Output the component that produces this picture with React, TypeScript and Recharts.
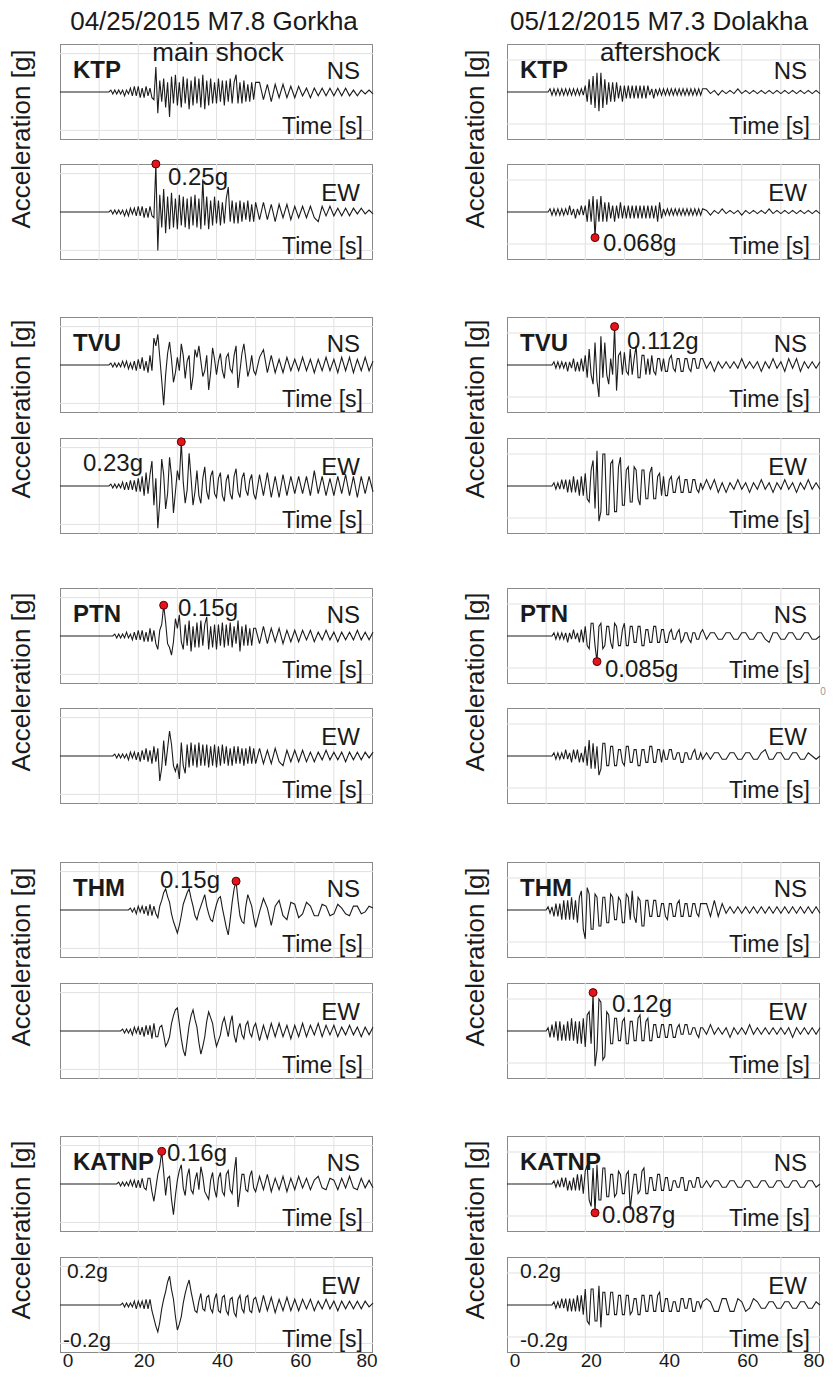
import { LineChart, Line, XAxis, YAxis, ReferenceLine, ReferenceDot } from 'recharts';

// records: 10 s to 50 s read every 0.5 s, then 51 s to 80 s every 1 s; values in hundredths of g
const traceStart = 10;
const denseStep = 0.5;
const denseSamples = 81;
const codaStep = 1;
const valueUnit = 0.01;

const timeTicks = [0, 20, 40, 60, 80];
const gridTimes = [10, 20, 30, 40, 50, 60, 70];
const stations = ['KTP', 'TVU', 'PTN', 'THM', 'KATNP'];

// 04/25/2015 M7.8 Gorkha main shock
const gorkhaKtpNs = [
  0, 0, 0, 0, 0, 0, 1, -1, 1, -1,
  1, -1, 1, -2, 1, -1, 2, -2, 3, -2,
  3, -3, 2, -3, 3, -2, 2, -3, -4, 13,
  -11, 6, -5, 7, -8, 5, -13, 8, -6, 9,
  -7, 5, -8, 8, -6, 7, -9, 6, -7, 8,
  -6, 7, -8, 9, -9, 6, -7, 7, -6, 5,
  -6, 7, -5, 6, -7, 6, -5, 7, -6, 5,
  9, -6, 5, -6, 6, -5, 4, -5, 5, -4,
  5,
  5, -4, 4, -5, 4, -3, 4, -3, 3, -3,
  3, -2, 2, -3, 2, -2, 2, -2, 2, -2, 2, -2, 2, -2, 1, -2, 1, -1, 1, -1,
];
const gorkhaKtpEw = [
  0, 0, 0, 0, 0, 0, 1, -1, 1, -1,
  1, -1, 1, -2, 1, -2, 2, -1, 2, -2,
  3, -2, 3, -3, 2, -3, 3, -2, -3, 25,
  -20, 9, -8, 12, -11, 8, -9, 10, -8, 7,
  -9, 9, -7, 8, -8, 7, -9, 8, -7, 9,
  -8, 7, -9, 17, -7, 8, -9, 6, -7, 8,
  -6, 6, -7, 5, -6, 7, 13, -5, 6, -6,
  5, -6, 6, -5, 5, -4, 6, -5, 4, -5,
  5,
  -4, 5, -4, 4, -5, 4, -3, 4, -4, 3,
  -3, 3, -3, 3, -3, -5, 3, -2, 3, -2, 2, -2, 2, -2, 2, -1, 2, -1, 1, -1,
];
const gorkhaTvuNs = [
  0, 0, 0, 0, 0, 0, 1, -1, 1, -1,
  1, -1, 2, -1, 2, -2, 1, -2, 2, -3,
  3, -2, 4, -3, 2, -4, 5, -3, 14, 10,
  16, 4, -8, -21, -5, 6, 12, 3, -9, -4,
  4, -3, 11, 5, -7, 2, 5, -13, -6, 8,
  4, 10, 2, -6, -3, 5, -13, -4, 9, 3,
  -5, 2, 6, -3, -7, 4, 6, -2, -4, 5,
  10, -12, -3, 6, 11, 3, -6, -2, 5, -3,
  -5,
  4, 8, -4, 5, -4, 3, -4, 4, -3, 3,
  -3, 4, -3, 3, -4, 3, -3, 4, -3, 3, -4, 4, -3, 4, -4, 3, -3, 4, -3, 2,
];
const gorkhaTvuEw = [
  0, 0, 0, 0, 0, 0, 1, -1, 1, -1,
  1, -1, 2, -2, 2, -2, 3, -2, 3, -3,
  4, -3, 5, -5, 7, -4, 6, 13, -10, 4,
  -22, -8, 14, 6, -12, -4, 15, 5, -14, -3,
  8, 3, 23, 2, -9, -2, 17, 4, -10, -3,
  8, -5, -9, 4, 10, -3, -7, 5, 8, -4,
  -6, 4, 7, -5, -8, 3, 6, -4, -7, 5,
  9, -3, -6, 4, 7, -2, -5, 3, 6, -4,
  -7,
  6, -5, 7, -6, 5, -6, 6, -5, 5, -4,
  5, -4, 5, -5, 8, -4, 5, -5, 4, -5, 5, -4, 6, -5, 5, -6, 5, -4, 5, -3,
];
const gorkhaPtnNs = [
  0, 0, 0, 0, 0, 0, 0, 0, 1, -1,
  1, -1, 1, -1, 2, -1, 1, -2, 2, -2,
  3, -2, 3, -3, 2, -3, 4, -3, 3, -4,
  -7, 3, 6, 16, 7, -4, -6, -10, -3, 9,
  4, 11, -3, -7, 6, -5, 8, -8, 5, -6,
  7, -6, 8, -5, 6, 10, -7, 5, -6, 6,
  -7, 6, -5, 7, -6, 6, -5, 7, -6, 5,
  -4, 8, -8, 5, -5, 6, -5, 4, -5, 4,
  4,
  -4, 5, -4, 4, -3, 4, -4, 3, -3, 3,
  -3, 3, -2, 3, -3, 2, -2, 3, -2, 2, -3, 2, -2, 2, -2, 3, -2, 2, -2, 2,
];
const gorkhaPtnEw = [
  0, 0, 0, 0, 0, 0, 0, 0, 1, -1,
  1, -1, 1, -1, 1, -2, 2, -1, 2, -2,
  2, -3, 3, -2, 4, -3, 3, -4, 5, -3,
  4, -13, -6, 8, -5, 4, 13, 6, -5, -8,
  -4, -12, 7, -5, -9, 6, -6, 7, -5, 6,
  -6, 7, -5, 6, -5, 6, -6, 5, -5, 6,
  -6, 5, -5, 6, -4, 5, -5, 4, -5, 5,
  -4, 5, -4, 4, -5, 4, -4, 5, -4, 4,
  -4,
  4, -4, 3, -4, 4, -3, -5, 3, -3, 3,
  -3, 3, -3, 2, -3, 2, -2, 3, -2, 2, -2, 2, -3, 2, -2, 2, -2, 2, -1, 2,
];
const gorkhaThmNs = [
  0, 0, 0, 0, 0, 0, 0, 0, 0, 0,
  0, 0, 0, 0, 0, 0, 1, -1, 1, -2,
  2, -1, 2, -2, 2, -3, 3, -3, 2, -2,
  -4, 2, 5, 9, 11, 7, 4, -2, -6, -9,
  -12, -8, -3, 3, 6, 9, 11, 6, 2, -3,
  -5, -1, 2, 5, 8, 2, -2, -5, -6, -1,
  3, 6, 7, 1, -4, -9, -13, -5, 4, 11,
  15, 5, -3, -6, -7, 2, 8, 5, 2, -4,
  -9,
  -1, 6, 1, -8, 2, 5, -3, -5, 4, 3,
  -4, -2, 4, 2, -3, -3, 3, 2, -3, -2, 3, 1, -2, -3, 2, 2, -2, -1, 2, 1,
];
const gorkhaThmEw = [
  0, 0, 0, 0, 0, 0, 0, 0, 0, 0,
  0, 0, 1, -1, 1, -1, 1, -2, 2, -1,
  2, -2, 2, -3, 3, -2, 3, -4, 4, -3,
  -3, 2, 3, -2, -8, -6, -3, 4, 8, 11,
  12, 4, -4, -10, -13, -5, 3, 8, 11, 6,
  2, -6, -12, -8, -3, 5, 10, 7, 4, -3,
  -8, -5, -2, 4, 7, 2, -3, 4, 8, -2,
  -6, 1, 4, -2, -4, 3, 5, -1, -3, 2,
  4,
  -5, 3, -4, 4, -3, 4, -3, 3, -4, 3,
  -3, 4, -3, 3, -2, 4, -3, 3, -2, 3, -3, 2, -2, 3, -2, 2, -3, 2, -2, 2,
];
const gorkhaKatnpNs = [
  0, 0, 0, 0, 0, 0, 0, 0, 0, 0,
  1, -1, 1, -1, 1, -1, 2, -1, 2, -2,
  2, -2, 3, -2, -3, 3, 3, -4, -9, -2,
  5, 9, 17, 6, -6, 3, 4, -8, -16, -6,
  2, 7, 10, -2, -6, 4, 8, -3, -5, 2,
  6, -3, 9, 4, -4, -6, -8, 2, 6, -3,
  -7, 3, 6, -4, -6, 5, 7, -3, -5, 6,
  14, -12, -4, 5, 5, -3, -4, 4, 7, -2,
  -4,
  4, -3, 5, -4, 3, -3, 4, -4, 3, -3,
  4, -2, 3, -3, 2, 4, -2, -3, 3, 2, -3, 3, -2, 4, -2, -3, 3, -2, 2, -2,
];
const gorkhaKatnpEw = [
  0, 0, 0, 0, 0, 0, 0, 0, 0, 0,
  0, 0, 1, -1, 1, -1, 1, -1, 2, -2,
  2, -1, 2, -2, 3, -2, 3, -3, -7, -11,
  -14, -9, -2, 3, 7, 12, 15, 8, 3, -6,
  -13, -10, -6, 1, 6, 10, 13, 7, 2, -3,
  -4, 2, 6, -2, -3, 4, 5, -2, -4, 3,
  6, -3, -4, 4, 5, -3, -5, 3, 4, -4,
  -6, 3, 5, -2, -4, 4, 5, -3, -4, 3,
  4,
  -4, 5, -3, 4, -4, 3, -3, 4, -3, 3,
  -3, 3, -2, 3, -3, 2, -2, 3, -2, 2, -3, 2, -2, 2, -2, 2, -2, 2, -1, 1,
];

// 05/12/2015 M7.3 Dolakha aftershock
const dolakhaKtpNs = [
  0, 0, 1, -1, 1, -1, 1, -1, 1, -1,
  1, -1, 1, -1, 1, -1, 1, -1, 1, -1,
  2, -3, 4, -4, 5, -5, 6, -6, 6, -5,
  4, -4, 3, -3, 3, -3, 3, -2, 2, -3,
  2, -2, 2, -2, 2, -2, 2, -2, 2, -2,
  2, -2, 2, -1, 1, -2, 1, -1, 1, -1,
  1, -1, 1, -1, 1, -1, 1, -1, 1, -1,
  1, -1, 1, -1, 1, -1, 1, -1, 1, -1,
  1,
  1, -0.5, 0.5, -1, 0.5, -0.5, 0.5, -0.5, 1, -0.5, 0.5, -0.5, 0.5, -0.5, 0.5,
  -0.5, 0.5, -0.5, 0.5, -0.5, 0.5, -0.5, 0.5, -0.5, 0.5, -0.5, 0.5, -0.5, 0.5, -0.5,
];
const dolakhaKtpEw = [
  0, 0, 1, -1, 1, -1, 1, -1, 1, -1,
  1, -1, 2, -1, 1, -2, 1, -1, 2, -1,
  2, -3, 4, -3, 5, -8, 4, -3, 5, -3,
  3, -3, 3, -2, 2, -3, 2, -2, 3, -2,
  2, -2, 2, -2, 2, -2, 2, -2, 2, -2,
  2, -2, 2, -2, 2, -2, 2, -3, 3, -2,
  1, -1, 1, -1, 1, -1, 1, -1, 1, -1,
  1, -1, 1, -1, 1, -1, 1, -1, 1, -1,
  1,
  0.5, -1, 0.5, -0.5, 1, -0.5, 0.5, -0.5, 0.5, -1, 0.5, -0.5, 0.5, -0.5, 0.5,
  -0.5, 1, -0.5, 0.5, -0.5, 0.5, -0.5, 0.5, -0.5, 0.5, -0.5, 0.5, -0.5, 0.5, -0.5,
];
const dolakhaTvuNs = [
  0, 0, 0, 0, 1, -1, 1, -1, 1, -1,
  1, -2, 1, -1, 2, -2, 1, -2, 2, -2,
  3, -4, 5, -3, -6, 7, -5, -10, 9, -4,
  7, -3, -6, 2, -3, 12, -8, 3, 4, -3,
  4, -2, -3, 5, -3, 2, 6, -4, -4, 3,
  3, -3, 2, -3, 3, -2, -3, 2, 2, -2,
  2, -2, -2, 2, 3, -1, -2, 2, 2, -2,
  -2, 2, 2, -1, -2, 2, 2, -1, -1, 2,
  2,
  -1, 1, -2, 1, -1, 1, -1, 1, -1, 2,
  -1, 1, -1, 1, -2, 1, -1, 2, -1, 1, -2, 2, -1, 2, -2, 1, -1, 1, -1, 1,
];
const dolakhaTvuEw = [
  0, 0, 0, 0, 1, -1, 1, -1, 2, -1,
  2, -2, 2, -2, 3, -2, 2, -3, 3, -3,
  4, -4, -5, 5, 8, -7, 11, -11, -8, 10,
  10, -9, -9, 7, 8, -8, -8, 6, 9, -6,
  -6, 5, 6, -5, -5, 6, 5, -4, -6, 5,
  5, -4, -4, 4, 6, -4, -4, 3, 4, -3,
  3, -3, -3, 2, 3, -2, -2, 2, 3, -2,
  -2, 2, 2, -2, -2, 2, 2, -1, -2, 1,
  -1,
  2, -1, 2, -2, 1, -2, 1, -1, 2, -1,
  1, -2, 1, -1, 2, -1, 1, -2, 1, -1, 2, -1, 1, -2, 1, -1, 2, -1, 1, -1,
];
const dolakhaPtnNs = [
  0, 0, 0, 0, 1, -1, 1, -1, 1, -1,
  1, -2, 1, -1, 2, -1, 1, -2, 2, -2,
  3, -3, -4, 4, 4, -3, -8, 3, 4, -4,
  -3, 3, 3, -2, -4, 4, 3, -3, -3, 2,
  4, -3, -3, 3, 3, -2, -2, 3, 3, -3,
  -3, 2, 2, -2, -2, 3, 3, -2, -2, 2,
  2, -2, -2, 1, 2, -1, -1, 1, 2, -2,
  -1, 1, 1, -1, -2, 1, 1, -1, -1, 1,
  2,
  -1, 1, 1, -1, -1, 1, 1, -1, -1, 1,
  1, -1, -1, 1, 1, -1, -2, 1, 1, -1, -1, 1, 1, -1, -1, 1, 1, -1, -1, 0,
];
const dolakhaPtnEw = [
  0, 0, 0, 0, 1, -1, 1, -1, 1, -1,
  2, -1, 1, -2, 2, -1, 2, -2, 1, -2,
  3, -3, 5, -4, 4, -4, 3, -6, -4, 4,
  4, -3, -3, 3, 3, -3, -3, 2, 2, -2,
  -3, 3, 3, -2, -2, 2, 2, -3, -3, 2,
  2, -2, -2, 3, 3, -2, -2, 2, 2, -2,
  2, -1, -1, 2, 2, -1, -1, 1, 1, -2,
  -2, 1, 1, -1, -1, 1, 2, -1, -1, 1,
  -1,
  1, -1, 1, 1, -1, -1, 1, 1, -1, -1,
  1, 1, -1, -1, 1, 2, -1, -1, 1, 1, -1, -1, 1, 1, -1, -1, 1, 0, -1, 0,
];
const dolakhaThmNs = [
  0, 1, -1, 1, -2, 2, -2, 2, -3, 3,
  -3, 3, -3, 4, -3, 3, -4, 4, 6, -6,
  -9, 7, 5, -6, -6, 5, 4, -5, -5, 4,
  4, -4, -4, 5, 4, -3, -3, 4, 3, -4,
  -4, 5, 4, -3, 6, -2, -4, 4, 3, -5,
  -5, 3, 3, -2, -2, 3, 3, -2, -2, 2,
  2, -2, -3, 2, 2, -2, -2, 2, 3, -2,
  -2, 2, 2, -2, -2, 2, 2, -1, -2, 2,
  2,
  2, -2, 3, -2, 2, -1, 1, -1, 1, -1,
  1, -1, 1, -1, 1, -1, 1, -1, 1, -1, 1, -1, 1, -1, 1, -1, 1, -1, 1, -1,
];
const dolakhaThmEw = [
  0, 1, -2, 2, -2, 3, -3, 3, -3, 2,
  -3, 3, -3, 4, -3, 3, -4, 3, -4, 4,
  -5, 5, 6, -4, 12, -11, -6, 10, 9, -9,
  -8, 6, 5, -4, -4, 4, 4, -3, -3, 3,
  4, -4, -4, 3, 3, -3, -3, 4, 5, -3,
  -3, 3, 4, -3, -3, 2, 2, -2, -2, 2,
  2, -2, -2, 2, 2, -2, -2, 1, 2, -1,
  -1, 2, 2, -1, -1, 1, 1, -1, -2, 1,
  1,
  -1, 2, -1, 1, -1, 1, -2, 1, -1, 1, -1, 2, -1, 1, -1,
  1, -1, 1, -1, 1, -1, 1, -2, 1, -1, 1, -1, 1, -1, 1,
];
const dolakhaKatnpNs = [
  0, 0, 0, 0, 1, -1, 1, -1, 2, -1,
  2, -2, 1, -2, 2, -2, 3, -2, 3, -3,
  4, 6, -5, -7, 5, -9, 6, -5, -5, 5,
  5, -4, -4, 3, 3, -4, -3, 4, 3, -3,
  -3, 3, 4, -8, -2, 3, 3, -3, -2, 4,
  5, -3, -3, 2, 2, -2, -2, 3, 3, -2,
  -2, 2, 2, -2, -2, 1, 1, -1, -1, 2,
  2, -2, -2, 1, 1, -1, -1, 2, 2, -1,
  -1,
  1, -1, 1, 1, -1, -1, 1, 1, -1, -1, 1, 1, -1, -1, 1,
  1, -1, -1, 1, 1, -1, -1, 1, 1, -1, -1, 1, 1, -1, 0,
];
const dolakhaKatnpEw = [
  0, 0, 0, 0, 1, -1, 1, -1, 2, -1,
  2, -2, 2, -2, 2, -2, 3, -2, 3, -3,
  5, -5, -6, 5, 5, -5, -5, 6, -7, 4,
  4, -3, -3, 4, 4, -3, -3, 3, 3, -3,
  -3, 3, 3, -3, -2, 2, 2, -3, -3, 3,
  3, -2, -2, 3, 3, -2, -2, 3, 4, -2,
  -2, 2, 2, -2, -2, 1, 1, -2, -2, 2,
  2, -1, -1, 2, 2, -2, -2, 1, 1, -1,
  1,
  2, 1, -2, -2, 2, 2, -2, -2, 2, 1,
  -2, -1, 2, 1, -1, -1, 1, 1, -1, -1, 1, 1, -1, -1, 1, 1, -1, -1, 1, 0,
];

const gorkhaTraces = [
  [gorkhaKtpNs, gorkhaKtpEw],
  [gorkhaTvuNs, gorkhaTvuEw],
  [gorkhaPtnNs, gorkhaPtnEw],
  [gorkhaThmNs, gorkhaThmEw],
  [gorkhaKatnpNs, gorkhaKatnpEw],
];
const dolakhaTraces = [
  [dolakhaKtpNs, dolakhaKtpEw],
  [dolakhaTvuNs, dolakhaTvuEw],
  [dolakhaPtnNs, dolakhaPtnEw],
  [dolakhaThmNs, dolakhaThmEw],
  [dolakhaKatnpNs, dolakhaKatnpEw],
];

// which component carries the marked peak (0 = NS, 1 = EW) and its label
const gorkhaPeakComponent = [1, 1, 0, 0, 0];
const gorkhaPeakLabels = ['0.25g', '0.23g', '0.15g', '0.15g', '0.16g'];
const dolakhaPeakComponent = [1, 0, 0, 1, 0];
const dolakhaPeakLabels = ['0.068g', '0.112g', '0.085g', '0.12g', '0.087g'];

const PLOT_W = 313;
const PLOT_H = 96;
const PAD = 6;
const AXIS_H = 30;
const nsTops = [44, 317, 588, 862, 1136];
const ewTops = [164, 438, 708, 983, 1257];
const accelLabelY = [139, 409, 682, 957, 1230];
const FONT = '"Liberation Sans", Arial, Helvetica, sans-serif';
const INK = '#1a1a1a';

const columns = [
  {
    title: '04/25/2015 M7.8 Gorkha',
    subtitle: 'main shock',
    titleX: 214,
    subtitleX: 218,
    left: 60,
    accelX: 30,
    yMax: 0.25,
    gridY: 0.2,
    traces: gorkhaTraces,
    peakComponent: gorkhaPeakComponent,
    peakLabels: gorkhaPeakLabels,
    peakLabelPos: [[168, 185], [83, 471], [178, 616], [160, 888], [167, 1161]],
    rangeLabelX: [67, 63],
  },
  {
    title: '05/12/2015 M7.3 Dolakha',
    subtitle: 'aftershock',
    titleX: 659,
    subtitleX: 660,
    left: 507,
    accelX: 484,
    yMax: 0.15,
    gridY: 0.1,
    traces: dolakhaTraces,
    peakComponent: dolakhaPeakComponent,
    peakLabels: dolakhaPeakLabels,
    peakLabelPos: [[603, 251], [627, 349], [605, 677], [612, 1012], [602, 1223]],
    rangeLabelX: [520, 520],
  },
];

function sampleTime(i: number) {
  if (i < denseSamples) return traceStart + i * denseStep;
  return traceStart + (denseSamples - 1) * denseStep + (i - denseSamples + 1) * codaStep;
}

function TimeTick(props: any) {
  const { x, y, payload } = props;
  const shift = payload.value === timeTicks[timeTicks.length - 1] ? -6 : payload.value === 0 ? 8 : 6;
  return (
    <text x={x + shift} y={y} dy="0.71em" textAnchor="middle" fontSize={19} fontFamily={FONT} fill={INK}>
      {payload.value}
    </text>
  );
}

function Panel({
  values,
  left,
  top,
  yMax,
  gridY,
  showAxis,
  marked,
}: {
  values: number[];
  left: number;
  top: number;
  yMax: number;
  gridY: number;
  showAxis: boolean;
  marked: boolean;
}) {
  const rows = [{ t: 0, v: 0 }].concat(values.map((v, i) => ({ t: sampleTime(i), v: v * valueUnit })));
  const peak = rows.reduce((best, r) => (Math.abs(r.v) > Math.abs(best.v) ? r : best), rows[0]);
  const h = PLOT_H + 2 * PAD + (showAxis ? AXIS_H : 0);

  return (
    <div style={{ position: 'absolute', left: left - PAD, top: top - PAD, width: PLOT_W + 2 * PAD, height: h }}>
      <div
        style={{
          position: 'absolute',
          left: PAD,
          top: PAD,
          width: PLOT_W,
          height: PLOT_H,
          border: '1px solid #8a8a8a',
          boxSizing: 'border-box',
        }}
      />
      <LineChart
        width={PLOT_W + 2 * PAD}
        height={h}
        data={rows}
        margin={{ top: PAD, right: PAD, bottom: PAD, left: PAD }}
      >
        <XAxis
          type="number"
          dataKey="t"
          domain={[0, 80]}
          ticks={timeTicks}
          interval={0}
          hide={!showAxis}
          height={AXIS_H}
          axisLine={false}
          tickLine={false}
          tickSize={0}
          tickMargin={1}
          tick={<TimeTick />}
        />
        <YAxis type="number" domain={[-yMax, yMax]} hide allowDataOverflow />
        {gridTimes.map((t) => (
          <ReferenceLine key={`gx${t}`} x={t} stroke="#e1e1e1" strokeWidth={1} />
        ))}
        {[-gridY, gridY].map((g) => (
          <ReferenceLine key={`gy${g}`} y={g} stroke="#e1e1e1" strokeWidth={1} />
        ))}
        <Line
          type="linear"
          dataKey="v"
          stroke="#1c1c1c"
          strokeWidth={1.1}
          dot={false}
          isAnimationActive={false}
        />
        {marked && (
          <ReferenceDot
            x={peak.t}
            y={peak.v}
            r={4}
            fill="#e3141c"
            stroke="#5a0000"
            strokeWidth={1}
            ifOverflow="visible"
          />
        )}
      </LineChart>
    </div>
  );
}

export default function App() {
  return (
    <div
      style={{
        position: 'absolute',
        left: 0,
        top: 0,
        width: 834,
        height: 1385,
        background: '#ffffff',
        fontFamily: FONT,
      }}
    >
      {columns.map((col) =>
        stations.map((station, r) =>
          [0, 1].map((comp) => (
            <Panel
              key={`${col.title}-${station}-${comp}`}
              values={col.traces[r][comp]}
              left={col.left}
              top={comp === 0 ? nsTops[r] : ewTops[r]}
              yMax={col.yMax}
              gridY={col.gridY}
              showAxis={r === stations.length - 1 && comp === 1}
              marked={col.peakComponent[r] === comp}
            />
          ))
        )
      )}

      <svg
        width={834}
        height={1385}
        style={{ position: 'absolute', left: 0, top: 0, pointerEvents: 'none' }}
        fontFamily={FONT}
        fill={INK}
      >
        {columns.map((col) => (
          <g key={col.title}>
            <text x={col.titleX} y={30} fontSize={26} textAnchor="middle">
              {col.title}
            </text>
            <text x={col.subtitleX} y={61} fontSize={26} textAnchor="middle">
              {col.subtitle}
            </text>
            {stations.map((station, r) => {
              const right = col.left + PLOT_W;
              const [px, py] = col.peakLabelPos[r];
              return (
                <g key={station}>
                  <text
                    transform={`translate(${col.accelX},${accelLabelY[r]}) rotate(-90)`}
                    fontSize={26}
                    textAnchor="middle"
                  >
                    Acceleration [g]
                  </text>
                  <text x={col.left + 13} y={nsTops[r] + 34} fontSize={24} fontWeight="bold">
                    {station}
                  </text>
                  <text x={right - 13} y={nsTops[r] + 35} fontSize={24} textAnchor="end">
                    NS
                  </text>
                  <text x={right - 13} y={ewTops[r] + 37} fontSize={24} textAnchor="end">
                    EW
                  </text>
                  <text x={right - 10} y={nsTops[r] + PLOT_H - 6} fontSize={23} textAnchor="end">
                    Time [s]
                  </text>
                  <text x={right - 10} y={ewTops[r] + PLOT_H - 6} fontSize={23} textAnchor="end">
                    Time [s]
                  </text>
                  <text x={px} y={py} fontSize={24}>
                    {col.peakLabels[r]}
                  </text>
                </g>
              );
            })}
            <text x={col.rangeLabelX[0]} y={1278} fontSize={21}>
              0.2g
            </text>
            <text x={col.rangeLabelX[1]} y={1347} fontSize={21}>
              -0.2g
            </text>
          </g>
        ))}
        <text x={823} y={695} fontSize={10} fill="#9a9a9a" textAnchor="middle">
          0
        </text>
      </svg>
    </div>
  );
}
